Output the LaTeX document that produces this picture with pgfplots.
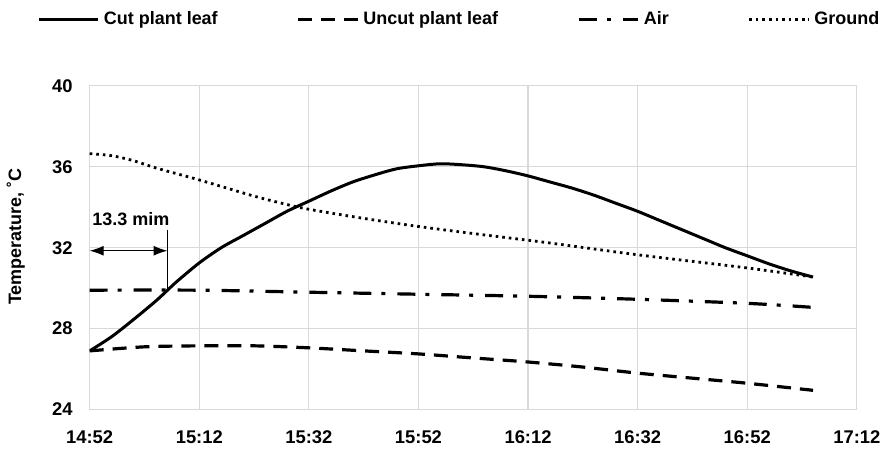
\documentclass[border=0pt]{standalone}
\usepackage{pgfplots}
\pgfplotsset{compat=1.18}
\usepackage{fontspec}
\setmainfont{Liberation Sans}
\usetikzlibrary{arrows.meta}
\definecolor{gridgray}{HTML}{D9D9D9}

\begin{document}
\begin{tikzpicture}
  \begin{axis}[
    scale only axis,
    width=384pt, height=162pt,
    xmin=0, xmax=140, ymin=24, ymax=40,
    xtick={0,20,...,140},
    xticklabels={14:52,15:12,15:32,15:52,16:12,16:32,16:52,17:12},
    ytick={24,28,...,40},
    major tick length=0pt,
    grid=major,
    grid style={gridgray, line width=0.6pt},
    axis line style={gridgray, line width=0.6pt},
    tick label style={font=\fontsize{9.2}{11}\selectfont\bfseries},
    /pgf/number format/assume math mode=true,
    xticklabel style={yshift=-7pt},
    yticklabel style={xshift=-5pt},
    ylabel={Temperature, ˚C},
    ylabel style={font=\fontsize{9}{11}\selectfont\bfseries,
      at={(axis description cs:-0.0964,0.535)}, anchor=center},
    legend columns=4,
    legend style={at={(rel axis cs:0.483,1.204)}, anchor=center,
      draw=none, fill=none, inner sep=0pt,
      font=\fontsize{9}{11}\selectfont\bfseries,
      /tikz/every even column/.append style={column sep=37.5pt}},
    legend image code/.code={\draw[line width=1.5pt, #1] (0cm,0cm) -- (1.05cm,0cm);},
  ]

    % cut plant leaf
    \addplot[black, line width=1.5pt, smooth] coordinates {
      (0,26.9) (4,27.6) (8,28.45) (12,29.35) (14.2,29.9)
      (16,30.35) (20,31.25) (24,32.0) (28,32.6) (32,33.2) (36,33.8)
      (40,34.3) (44,34.8) (48,35.25) (52,35.6) (56,35.9) (60,36.05)
      (64,36.15) (68,36.1) (72,36.0) (76,35.8) (80,35.55) (84,35.25)
      (88,34.95) (92,34.6) (96,34.2) (100,33.8) (104,33.35) (108,32.9)
      (112,32.45) (116,32.0) (120,31.6) (124,31.2) (128,30.85) (132,30.55)
    };
    \addlegendentry{Cut plant leaf}

    % uncut plant leaf
    \addplot[black, line width=1.6pt, dash pattern=on 7pt off 4.5pt, smooth] coordinates {
      (0,26.9) (10,27.1) (20,27.15) (30,27.15) (40,27.05) (50,26.9)
      (60,26.75) (70,26.55) (80,26.35) (90,26.1) (100,25.8) (110,25.55)
      (120,25.3) (132,24.95)
    };
    \addlegendentry{Uncut plant leaf}

    % air
    \addplot[black, line width=1.6pt, dash pattern=on 9pt off 5pt on 2pt off 6pt, smooth] coordinates {
      (0,29.9) (20,29.9) (40,29.8) (60,29.7) (80,29.6) (100,29.45)
      (120,29.25) (132,29.05)
    };
    \addlegendentry{Air}

    % ground
    \addplot[black, line width=1.4pt, dash pattern=on 1.3pt off 2pt, smooth] coordinates {
      (0,36.65) (4,36.55) (8,36.3) (12,35.95) (16,35.65) (20,35.35)
      (25,34.95) (30,34.55) (35,34.2) (40,33.9) (50,33.45) (60,33.05)
      (70,32.7) (83.5,32.25) (100,31.65) (120,31.0) (132,30.55)
    };
    \addlegendentry{Ground}

    % delay annotation
    \draw[{Latex[length=7pt,width=5pt]}-{Latex[length=7pt,width=5pt]}, line width=0.6pt]
      (axis cs:0,31.85) -- (axis cs:14.2,31.85);
    \draw[line width=0.5pt] (axis cs:14.2,32.9) -- (axis cs:14.2,29.85);
    \node[font=\fontsize{9}{11}\selectfont\bfseries] at (axis cs:7.5,33.4) {13.3 mim};
  \end{axis}
  % blank room above the legend, as in the reference
  \path (current axis.north) ++(0,43pt);
\end{tikzpicture}
\end{document}
